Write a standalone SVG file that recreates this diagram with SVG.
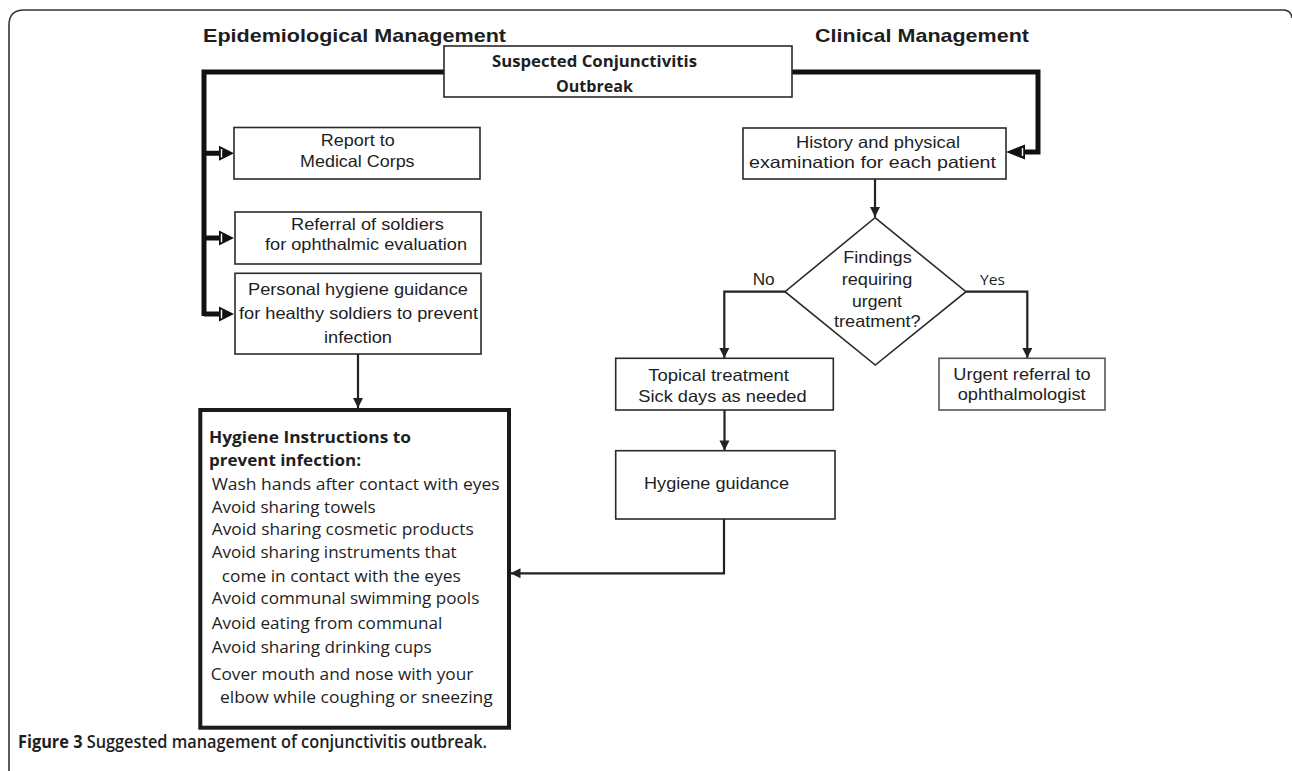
<svg xmlns="http://www.w3.org/2000/svg" width="1292" height="771" viewBox="0 0 1292 771">
<defs>
<style>
.box{fill:#fff;stroke:#2a2a2a;stroke-width:1.6}
.t{font-family:"Liberation Sans",Arial,sans-serif;font-size:16.5px;fill:#1e1e1e}
.h{font-family:"Liberation Sans",Arial,sans-serif;font-size:19px;font-weight:bold;fill:#1e1e1e}
.c{font-family:"Open Sans","Noto Sans",sans-serif;font-size:16px;fill:#1e1e1e}
.cb{font-family:"Open Sans","Noto Sans",sans-serif;font-size:16px;font-weight:bold;fill:#1e1e1e}
.thin{fill:none;stroke:#222;stroke-width:2.2}
.thick{fill:none;stroke:#111;stroke-width:5;stroke-linejoin:miter}
.head{fill:#111}
.notch{stroke:#fff;stroke-width:1.4}
</style>
<marker id="arr" markerUnits="userSpaceOnUse" markerWidth="12" markerHeight="12" viewBox="0 0 12 12" refX="11" refY="6" orient="auto">
<path d="M1,1 L11,6 L1,11 Z" fill="#222"/>
</marker>
</defs>
<rect width="1292" height="771" fill="#fff"/>
<path d="M9,771 V25 Q9,10 24,10 H1283 Q1291,10 1292,18" fill="none" stroke="#333" stroke-width="1.6"/>

<g id="headings">
<text class="h" x="203" y="42" textLength="303" lengthAdjust="spacingAndGlyphs">Epidemiological Management</text>
<text class="h" x="815" y="42" textLength="214" lengthAdjust="spacingAndGlyphs">Clinical Management</text>
</g>

<g id="connectors">
<path class="thick" d="M444,72 H204 V316"/>
<path class="thick" d="M204,153.3 H219 M204,238 H219 M204,314 H219"/>
<polygon class="head" points="219,145.8 234,153.3 219,160.8"/>
<polygon class="head" points="219,230.5 234,238 219,245.5"/>
<polygon class="head" points="219,306.5 234,314 219,321.5"/>
<path class="notch" d="M221.5,149 V157.6 M221.5,233.7 V242.3 M221.5,309.7 V318.3"/>
<path class="thick" d="M792,72 H1038 V152 H1025"/>
<polygon class="head" points="1025,144.5 1006,152 1025,159.5"/>
<path class="notch" d="M1022.5,148 V156"/>
<path class="thin" d="M875,179 V217" marker-end="url(#arr)"/>
<path class="thin" d="M785,291.7 H724.3 V358" marker-end="url(#arr)"/>
<path class="thin" d="M966,291.7 H1027.3 V358" marker-end="url(#arr)"/>
<path class="thin" d="M724.5,410 V450.5" marker-end="url(#arr)"/>
<path class="thin" d="M724,519 V573.3 H510.5" marker-end="url(#arr)"/>
<path class="thin" d="M358,354 V408" marker-end="url(#arr)"/>
</g>

<g id="suspected">
<rect class="box" x="444" y="46" width="348" height="51"/>
<text class="cb" x="492" y="67" textLength="205" lengthAdjust="spacingAndGlyphs">Suspected Conjunctivitis</text>
<text class="cb" x="556" y="91.5" textLength="77" lengthAdjust="spacingAndGlyphs">Outbreak</text>
</g>

<g id="report">
<rect class="box" x="234" y="127.5" width="246" height="51.5"/>
<text class="t" x="320.7" y="146" textLength="74" lengthAdjust="spacingAndGlyphs">Report to</text>
<text class="t" x="300" y="166.7" textLength="114.6" lengthAdjust="spacingAndGlyphs">Medical Corps</text>
</g>

<g id="referral">
<rect class="box" x="235" y="212" width="246" height="52"/>
<text class="t" x="291" y="230" textLength="153" lengthAdjust="spacingAndGlyphs">Referral of soldiers</text>
<text class="t" x="265" y="249.5" textLength="202" lengthAdjust="spacingAndGlyphs">for ophthalmic evaluation</text>
</g>

<g id="personal">
<rect class="box" x="235" y="273.3" width="246" height="80.7"/>
<text class="t" x="248" y="295" textLength="220" lengthAdjust="spacingAndGlyphs">Personal hygiene guidance</text>
<text class="t" x="239" y="319" textLength="239" lengthAdjust="spacingAndGlyphs">for healthy soldiers to prevent</text>
<text class="t" x="324" y="343" textLength="68" lengthAdjust="spacingAndGlyphs">infection</text>
</g>

<g id="history">
<rect class="box" x="743" y="128" width="263" height="51"/>
<text class="t" x="796" y="148.3" textLength="164" lengthAdjust="spacingAndGlyphs">History and physical</text>
<text class="t" x="749" y="168.3" textLength="247" lengthAdjust="spacingAndGlyphs">examination for each patient</text>
</g>

<g id="decision">
<polygon class="box" points="875,217.7 966,291.7 875.3,365 785,291.7"/>
<text class="t" x="843.3" y="263.3" textLength="68.4" lengthAdjust="spacingAndGlyphs">Findings</text>
<text class="t" x="841.7" y="285" textLength="70.6" lengthAdjust="spacingAndGlyphs">requiring</text>
<text class="t" x="852" y="306.7" textLength="50" lengthAdjust="spacingAndGlyphs">urgent</text>
<text class="t" x="834" y="326.7" textLength="86.7" lengthAdjust="spacingAndGlyphs">treatment?</text>
</g>

<g id="labels">
<text class="t" x="752.7" y="285" textLength="22" lengthAdjust="spacingAndGlyphs">No</text>
<text class="c" x="980" y="285" textLength="25" lengthAdjust="spacingAndGlyphs" style="font-size:15px">Yes</text>
</g>

<g id="topical">
<rect class="box" x="615.7" y="358.3" width="217.6" height="51.7"/>
<text class="t" x="648.3" y="380.7" textLength="140.7" lengthAdjust="spacingAndGlyphs">Topical treatment</text>
<text class="t" x="638.3" y="402.3" textLength="168.3" lengthAdjust="spacingAndGlyphs">Sick days as needed</text>
</g>

<g id="urgent">
<rect class="box" x="939" y="358.3" width="166" height="51.7" style="stroke:#555"/>
<text class="t" x="953.3" y="380" textLength="137.3" lengthAdjust="spacingAndGlyphs">Urgent referral to</text>
<text class="t" x="957.7" y="400" textLength="128" lengthAdjust="spacingAndGlyphs">ophthalmologist</text>
</g>

<g id="hygiene-guidance">
<rect class="box" x="615.7" y="450.7" width="219.3" height="68.3"/>
<text class="t" x="644" y="489.3" textLength="145" lengthAdjust="spacingAndGlyphs">Hygiene guidance</text>
</g>

<g id="hygiene-instructions">
<rect x="200.3" y="410" width="308.7" height="317.7" fill="#fff" stroke="#1a1a1a" stroke-width="4"/>
<text class="cb" x="209" y="442.7" textLength="202" lengthAdjust="spacingAndGlyphs">Hygiene Instructions to</text>
<text class="cb" x="209" y="466" textLength="152" lengthAdjust="spacingAndGlyphs">prevent infection:</text>
<text class="c" x="211.7" y="490" textLength="288" lengthAdjust="spacingAndGlyphs">Wash hands after contact with eyes</text>
<text class="c" x="211.7" y="512.7" textLength="164" lengthAdjust="spacingAndGlyphs">Avoid sharing towels</text>
<text class="c" x="211.7" y="535" textLength="262" lengthAdjust="spacingAndGlyphs">Avoid sharing cosmetic products</text>
<text class="c" x="211.7" y="558.3" textLength="245" lengthAdjust="spacingAndGlyphs">Avoid sharing instruments that</text>
<text class="c" x="221.7" y="581.7" textLength="239" lengthAdjust="spacingAndGlyphs">come in contact with the eyes</text>
<text class="c" x="211.7" y="604" textLength="267.6" lengthAdjust="spacingAndGlyphs">Avoid communal swimming pools</text>
<text class="c" x="211.7" y="629.3" textLength="230.6" lengthAdjust="spacingAndGlyphs">Avoid eating from communal</text>
<text class="c" x="211.7" y="653.3" textLength="220" lengthAdjust="spacingAndGlyphs">Avoid sharing drinking cups</text>
<text class="c" x="210.7" y="680" textLength="262.6" lengthAdjust="spacingAndGlyphs">Cover mouth and nose with your</text>
<text class="c" x="220" y="703.3" textLength="272.7" lengthAdjust="spacingAndGlyphs">elbow while coughing or sneezing</text>
</g>

<g id="caption">
<text class="cb" x="18" y="748" style="font-size:17.5px" textLength="469" lengthAdjust="spacingAndGlyphs">Figure 3 <tspan style="font-weight:600">Suggested management of conjunctivitis outbreak.</tspan></text>
</g>
</svg>
